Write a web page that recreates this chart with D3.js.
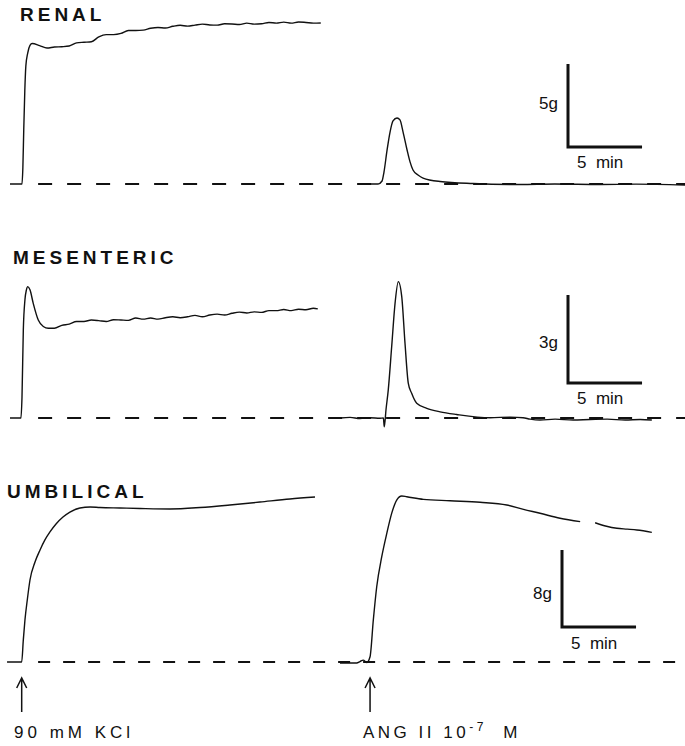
<!DOCTYPE html>
<html>
<head>
<meta charset="utf-8">
<script src="https://cdn.jsdelivr.net/npm/d3@7"></script>
<style>
  body { margin: 0; background: #fff; }
  text { font-family: "Liberation Sans", Arial, sans-serif; fill: #111; }
</style>
</head>
<body>
<svg id="chart" width="685" height="746"></svg>
<script>
// tissue names and scale bar sizes (g), time bar (min)
var panels = ["RENAL", "MESENTERIC", "UMBILICAL"];
var scaleG = [5, 3, 8];
var scaleMin = 5;
var stimLabels = ["90 mM KCl", "ANG II 10"];
var stimTime = [0.79, 2.03];   // minutes after trace start

// time (min) / tension (g)
var renalKclT = [0, 0.81, 0.87, 0.93, 1.0, 1.07, 1.2, 1.35, 1.5, 2.0, 2.5, 3.0, 3.5, 4.0, 4.5, 5.0, 5.5, 6.0, 6.5, 7.0, 7.5, 8.0, 8.5, 9.0, 9.5, 10.0, 10.5, 11.0, 11.5, 12.0, 12.5, 13.0, 13.5, 14.0, 14.5, 15.0, 15.5, 16.0, 16.5, 17.0, 17.5, 18.0, 18.5, 19.0, 19.5, 20.0, 20.5, 21.0];
var renalKclG = [0, 0, 1.0, 3.3, 5.6, 7.1, 7.9, 8.35, 8.46, 8.34, 8.19, 8.25, 8.27, 8.31, 8.50, 8.54, 8.57, 8.86, 9.00, 9.00, 9.07, 9.25, 9.25, 9.27, 9.38, 9.43, 9.40, 9.50, 9.56, 9.51, 9.57, 9.63, 9.58, 9.57, 9.65, 9.64, 9.61, 9.69, 9.63, 9.65, 9.73, 9.69, 9.75, 9.69, 9.76, 9.73, 9.69, 9.70];

var renalAngT = [1.82, 2.57, 2.84, 2.97, 3.18, 3.38, 3.58, 3.85, 4.05, 4.26, 4.53, 4.73, 4.93, 5.27, 5.61, 6.76, 8.99, 12.16, 14.5, 17.57, 20.0, 23.31];
var renalAngG = [0, 0, 0.18, 0.72, 2.05, 3.13, 3.80, 3.98, 3.86, 3.13, 2.05, 1.33, 0.84, 0.54, 0.36, 0.15, 0.03, -0.03, 0.0, -0.03, -0.01, -0.06];

var mesKclT = [0, 0.74, 0.81, 0.90, 1.01, 1.11, 1.20, 1.35, 1.57, 1.91, 2.25, 2.59, 3.0, 3.5, 4.0, 4.5, 5.0, 5.5, 6.0, 6.5, 7.0, 7.5, 8.0, 8.5, 9.0, 9.5, 10.0, 10.5, 11.0, 11.5, 12.0, 12.5, 13.0, 13.5, 14.0, 14.5, 15.0, 15.5, 16.0, 16.5, 17.0, 17.5, 18.0, 18.5, 19.0, 19.5, 20.0, 20.5, 20.8];
var mesKclG = [0, 0, 0.7, 3.00, 4.03, 4.37, 4.48, 4.37, 3.91, 3.34, 3.12, 3.06, 3.06, 3.16, 3.20, 3.29, 3.29, 3.34, 3.32, 3.29, 3.35, 3.34, 3.33, 3.41, 3.37, 3.41, 3.37, 3.42, 3.45, 3.42, 3.45, 3.50, 3.45, 3.51, 3.54, 3.51, 3.57, 3.61, 3.58, 3.62, 3.60, 3.66, 3.66, 3.70, 3.66, 3.71, 3.69, 3.74, 3.72];

var mesAngT = [0, 0.68, 1.35, 2.03, 2.70, 2.93, 2.99, 3.11, 3.26, 3.49, 3.72, 3.94, 4.17, 4.39, 4.61, 4.84, 5.18, 5.86, 6.76, 7.88, 10.14, 11.49, 12.36, 12.84, 13.51, 14.53, 15.74, 16.89, 18.04, 19.26, 20.27, 21.06];
var mesAngG = [0, 0.02, -0.02, 0.01, -0.01, 0, -0.30, 0.3, 0.96, 2.43, 3.92, 4.65, 4.14, 2.55, 1.19, 0.84, 0.50, 0.33, 0.21, 0.12, 0.01, 0.03, 0.01, -0.04, -0.07, -0.04, -0.07, -0.05, -0.04, -0.07, -0.05, -0.07];

var umbKclT = [-0.2, 0.79, 0.9, 1.01, 1.18, 1.35, 1.69, 2.03, 2.36, 2.70, 3.11, 3.58, 4.05, 4.73, 5.41, 6.08, 7.43, 8.78, 10.81, 12.84, 14.86, 16.89, 18.92, 20.61];
var umbKclG = [0, 0, 2.3, 4.36, 6.6, 8.52, 10.39, 11.64, 12.68, 13.51, 14.34, 15.06, 15.58, 16.00, 16.10, 16.05, 16.00, 15.95, 15.90, 16.05, 16.31, 16.62, 16.94, 17.14];

var umbAngT = [0, 1.13, 1.35, 1.57, 1.80, 2.03, 2.25, 2.48, 2.82, 3.16, 3.49, 3.83, 4.17, 4.51, 5.63, 7.43, 9.46, 11.26, 12.39, 13.51, 14.86, 16.22, 16.35, 17.23, 18.0, 18.70, 19.4, 20.05, 21.06];
var umbAngG = [-0.1, -0.1, 0.05, 0.2, -0.05, 0.55, 4.36, 7.82, 10.94, 13.36, 15.44, 16.83, 17.25, 17.17, 16.90, 16.75, 16.59, 16.31, 15.86, 15.45, 14.93, 14.58, null, 14.47, 14.10, 13.89, 13.80, 13.71, 13.47];

var traces = [
    [[renalKclT, renalKclG], [renalAngT, renalAngG]],
    [[mesKclT, mesKclG], [mesAngT, mesAngG]],
    [[umbKclT, umbKclG], [umbAngT, umbAngG]]
];

var svg = d3.select("#chart"),
    width = +svg.attr("width");

// time axes: left = KCl run, right = ANG II run (14.8 px per min)
var xL = d3.scaleLinear().domain([0, 22.3]).range([10, 340]),
    xR = d3.scaleLinear().domain([0, 23.3]).range([340, 685]);

// layout per panel: baseline, px per gram, title, scale bar corner
var layout = [
    { base: 184, pxg: 16.6, titleX: 20, titleY: 21, barX: 568, barY: 147, gY: 109, minY: 168, dash: "14,15" },
    { base: 418, pxg: 29.33, titleX: 13, titleY: 264, barX: 568, barY: 383, gY: 348, minY: 404, dash: "14,15" },
    { base: 662, pxg: 9.625, titleX: 7, titleY: 498, barX: 562, barY: 627, gY: 599, minY: 649, dash: "12,13" }
];

panels.forEach(function (name, i) {
    var L = layout[i];
    var y = d3.scaleLinear().domain([0, 1]).range([L.base, L.base - L.pxg]);
    var g = svg.append("g");

    g.append("text")
        .attr("x", L.titleX)
        .attr("y", L.titleY)
        .attr("font-size", "19px")
        .attr("font-weight", "bold")
        .attr("letter-spacing", "4px")
        .text(name);

    // dashed zero line
    g.append("line")
        .attr("x1", xL(1.9)).attr("x2", width)
        .attr("y1", y(0)).attr("y2", y(0))
        .attr("stroke", "#111")
        .attr("stroke-width", 2)
        .attr("stroke-dasharray", L.dash);

    [xL, xR].forEach(function (x, j) {
        var t = traces[i][j][0], v = traces[i][j][1];
        var pts = t.map(function (d, k) { return [d, v[k]]; });
        var line = d3.line()
            .defined(function (d) { return d[1] != null; })
            .x(function (d) { return x(d[0]); })
            .y(function (d) { return y(d[1]); })
            .curve(d3.curveMonotoneX);
        g.append("path")
            .datum(pts)
            .attr("d", line)
            .attr("fill", "none")
            .attr("stroke", "#111")
            .attr("stroke-width", 1.4);
    });

    // calibration bar
    var barH = y(0) - y(scaleG[i]),
        barW = xR(scaleMin) - xR(0);
    g.append("path")
        .attr("d", "M" + L.barX + "," + (L.barY - barH) + "V" + L.barY + "H" + (L.barX + barW))
        .attr("fill", "none")
        .attr("stroke", "#111")
        .attr("stroke-width", 3);

    g.append("text")
        .attr("x", L.barX - 10)
        .attr("y", L.gY)
        .attr("text-anchor", "end")
        .attr("font-size", "17px")
        .text(scaleG[i] + "g");

    g.append("text")
        .attr("x", L.barX + 9)
        .attr("y", L.minY)
        .attr("font-size", "17px")
        .attr("xml:space", "preserve")
        .text(scaleMin + "  min");
});

// stimulus arrows and labels
[xL, xR].forEach(function (x, j) {
    var ax = x(stimTime[j]);
    svg.append("path")
        .attr("d", "M" + ax + ",712V678M" + (ax - 5) + ",688L" + ax + ",678L" + (ax + 5) + ",688")
        .attr("fill", "none")
        .attr("stroke", "#111")
        .attr("stroke-width", 1.5);
});

svg.append("text")
    .attr("x", 14)
    .attr("y", 738)
    .attr("font-size", "17px")
    .attr("letter-spacing", "4px")
    .text(stimLabels[0]);

var ang = svg.append("text")
    .attr("x", 363)
    .attr("y", 738)
    .attr("font-size", "17px")
    .attr("letter-spacing", "3.5px")
    .attr("xml:space", "preserve");
ang.append("tspan").text(stimLabels[1]);
ang.append("tspan").attr("dy", -7).attr("font-size", "12px").text("-7");
ang.append("tspan").attr("dy", 7).text("  M");
</script>
</body>
</html>
